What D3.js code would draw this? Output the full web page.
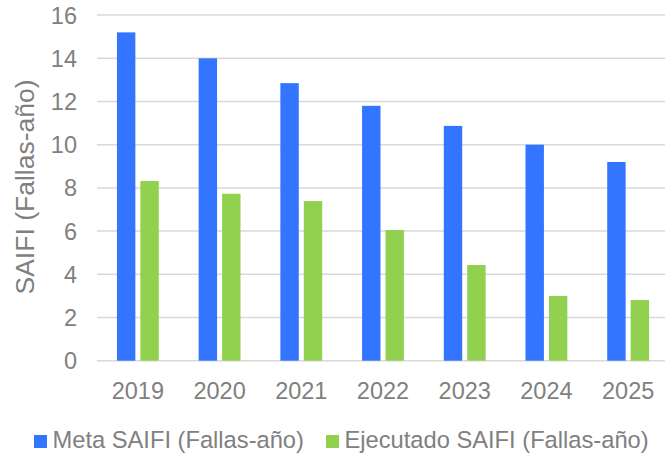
<!DOCTYPE html>
<meta charset="utf-8">
<style>
  body { margin: 0; background: #fff; }
  text { font-family: "Liberation Sans", Arial, sans-serif; fill: #808080; }
  .grid line { stroke: #d9d9d9; stroke-width: 1.5px; }
</style>
<body>
<svg width="665" height="453"></svg>
<script src="https://d3js.org/d3.v7.min.js"></script>
<script>
  // data
  var years = ["2019", "2020", "2021", "2022", "2023", "2024", "2025"];
  var meta = [15.2, 14.0, 12.85, 11.8, 10.87, 10.0, 9.2];
  var ejecutado = [8.32, 7.73, 7.39, 6.05, 4.43, 3.0, 2.81];
  var seriesNames = ["Meta SAIFI (Fallas-año)", "Ejecutado SAIFI (Fallas-año)"];
  var seriesColors = ["#3375ff", "#92d050"];
  var yTicks = [0, 2, 4, 6, 8, 10, 12, 14, 16];

  var svg = d3.select("svg");

  var x0 = d3.scaleBand().domain(years).range([97, 669])
      .paddingInner(0.488).paddingOuter(0.244);
  var x1 = d3.scaleBand().domain([0, 1]).range([0, x0.bandwidth()])
      .paddingInner(0.214);
  var y = d3.scaleLinear().domain([0, 16]).range([360.7, 15.1]);

  // gridlines
  svg.append("g").attr("class", "grid")
    .selectAll("line").data(yTicks).enter().append("line")
    .attr("x1", 97).attr("x2", 665)
    .attr("y1", function (d) { return y(d); })
    .attr("y2", function (d) { return y(d); });

  // y tick labels
  svg.append("g").selectAll("text").data(yTicks).enter().append("text")
    .attr("x", 77).attr("y", function (d) { return y(d); })
    .attr("dy", "0.36em").attr("text-anchor", "end")
    .style("font-size", "23.5px")
    .text(function (d) { return d; });

  // bars
  var rows = years.map(function (yr, i) { return { year: yr, vals: [meta[i], ejecutado[i]] }; });
  var groups = svg.append("g").selectAll("g").data(rows).enter().append("g")
    .attr("transform", function (d) { return "translate(" + x0(d.year) + ",0)"; });

  groups.selectAll("rect")
    .data(function (d) { return d.vals.map(function (v, k) { return { k: k, v: v }; }); })
    .enter().append("rect")
    .attr("x", function (d) { return x1(d.k); })
    .attr("width", x1.bandwidth())
    .attr("y", function (d) { return y(d.v); })
    .attr("height", function (d) { return y(0) - y(d.v); })
    .attr("fill", function (d) { return seriesColors[d.k]; });

  // x labels
  svg.append("g").selectAll("text").data(years).enter().append("text")
    .attr("x", function (d) { return x0(d) + x0.bandwidth() / 2; })
    .attr("y", 398.5).attr("text-anchor", "middle")
    .style("font-size", "23.5px")
    .text(function (d) { return d; });

  // y axis title
  svg.append("text")
    .attr("transform", "translate(34,187) rotate(-90)")
    .attr("text-anchor", "middle")
    .style("font-size", "26.5px")
    .text("SAIFI (Fallas-año)");

  // legend
  var legendX = [34, 326];
  var legend = svg.append("g").selectAll("g").data(seriesNames).enter().append("g")
    .attr("transform", function (d, i) { return "translate(" + legendX[i] + ",435)"; });
  legend.append("rect").attr("width", 13).attr("height", 13)
    .attr("fill", function (d, i) { return seriesColors[i]; });
  legend.append("text").attr("x", 18.5).attr("y", 13)
    .style("font-size", "23.7px")
    .text(function (d) { return d; });
</script>
</body>
